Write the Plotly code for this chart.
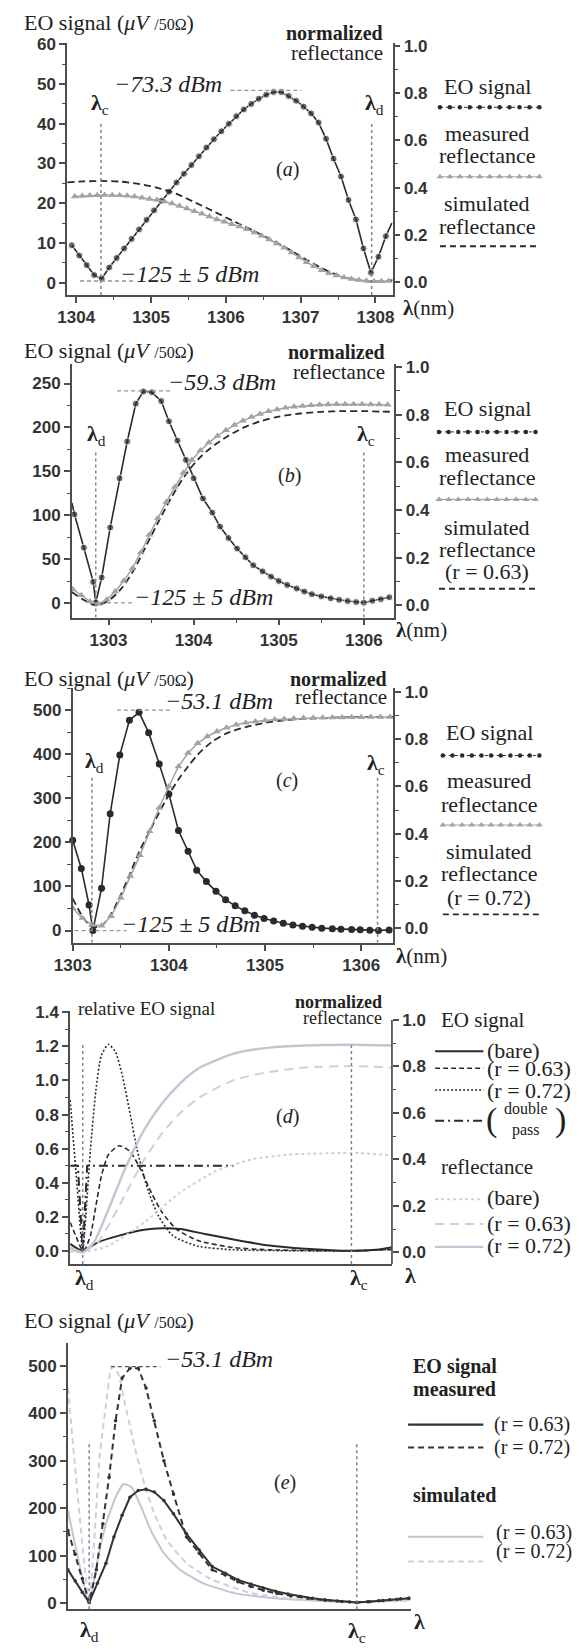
import plotly.graph_objects as go

W, H = 579, 1649
def px(v): return v / W
def py(v): return 1 - v / H

# ---------------- Panel (a) data ----------------
a_lam_eo = [1303.94, 1304.04, 1304.14, 1304.24, 1304.34, 1304.44, 1304.54, 1304.64, 1304.74, 1304.84,
            1304.94, 1305.04, 1305.14, 1305.24, 1305.34, 1305.44, 1305.54, 1305.64, 1305.74, 1305.84,
            1305.94, 1306.04, 1306.14, 1306.24, 1306.34, 1306.44, 1306.54, 1306.64, 1306.74, 1306.84,
            1306.94, 1307.04, 1307.14, 1307.24, 1307.34, 1307.44, 1307.54, 1307.64, 1307.74, 1307.84,
            1307.94, 1308.04, 1308.14, 1308.22]
a_eo = [9.4, 6.8, 4.4, 1.9, 1.0, 3.8, 6.2, 8.6, 11.0, 13.4,
        15.8, 18.2, 20.6, 22.9, 25.2, 27.4, 29.6, 31.8, 34.0, 36.1,
        38.1, 40.0, 41.9, 43.6, 45.0, 46.3, 47.3, 48.0, 48.0, 47.0,
        45.8, 44.3, 42.6, 40.3, 36.2, 31.2, 26.7, 20.8, 15.9, 8.6,
        2.5, 6.5, 11.7, 15.0]
a_lam_meas = [1303.98, 1304.08, 1304.18, 1304.28, 1304.38, 1304.48, 1304.58, 1304.68, 1304.78, 1304.88,
              1304.98, 1305.08, 1305.18, 1305.28, 1305.38, 1305.48, 1305.58, 1305.68, 1305.78, 1305.88,
              1305.98, 1306.08, 1306.18, 1306.28, 1306.38, 1306.48, 1306.58, 1306.68, 1306.78, 1306.88,
              1306.98, 1307.08, 1307.18, 1307.28, 1307.38, 1307.48, 1307.58, 1307.68, 1307.78, 1307.88,
              1307.98, 1308.08, 1308.18]
a_meas = [0.362, 0.364, 0.366, 0.368, 0.369, 0.368, 0.367, 0.365, 0.362, 0.357,
          0.352, 0.347, 0.341, 0.332, 0.322, 0.311, 0.300, 0.289, 0.277, 0.265,
          0.255, 0.245, 0.235, 0.223, 0.210, 0.196, 0.180, 0.163, 0.145, 0.125,
          0.104, 0.083, 0.066, 0.050, 0.037, 0.027, 0.019, 0.012, 0.008, 0.005,
          0.003, 0.003, 0.004]
a_lam_sim = [1303.88, 1304.1, 1304.35, 1304.6, 1304.85, 1305.1, 1305.35, 1305.6, 1305.85, 1306.1,
             1306.35, 1306.6, 1306.85, 1307.1, 1307.35, 1307.6, 1307.85, 1308.0, 1308.1, 1308.23]
a_sim = [0.422, 0.426, 0.428, 0.425, 0.415, 0.398, 0.372, 0.335, 0.297, 0.258,
         0.220, 0.180, 0.137, 0.090, 0.048, 0.018, 0.004, 0.001, 0.003, 0.008]
a_lam_c, a_lam_d = 1304.33, 1307.95
a_xticks = [1304, 1305, 1306, 1307, 1308]
a_yticks = [0, 10, 20, 30, 40, 50, 60]

# ---------------- Panel (b) data ----------------
b_lam_eo = [1302.57, 1302.60, 1302.71, 1302.82, 1302.85, 1302.92, 1303.02, 1303.13, 1303.22, 1303.32,
            1303.41, 1303.51, 1303.62, 1303.71, 1303.81, 1303.91, 1304.00, 1304.11, 1304.22, 1304.31,
            1304.41, 1304.51, 1304.61, 1304.70, 1304.81, 1304.91, 1305.00, 1305.10, 1305.21, 1305.30,
            1305.39, 1305.50, 1305.61, 1305.71, 1305.81, 1305.91, 1306.00, 1306.10, 1306.20, 1306.30]
b_eo = [114, 101, 63, 24, 0.5, 29, 86, 142, 184, 227,
        241, 240, 230, 207, 185, 163, 142, 119, 103, 87,
        74, 62, 52, 43, 36, 30, 25, 20.5, 16.5, 13,
        10, 7.5, 5.3, 3.6, 2.2, 1.0, 0.3, 2.5, 4.3, 6.5]
b_lam_meas = [1302.58, 1302.68, 1302.78, 1302.88, 1302.98, 1303.08, 1303.18, 1303.28, 1303.38, 1303.48,
              1303.58, 1303.68, 1303.78, 1303.88, 1303.98, 1304.08, 1304.18, 1304.28, 1304.38, 1304.48,
              1304.58, 1304.68, 1304.78, 1304.88, 1304.98, 1305.08, 1305.18, 1305.28, 1305.38, 1305.48,
              1305.58, 1305.68, 1305.78, 1305.88, 1305.98, 1306.08, 1306.18, 1306.28]
b_meas = [0.068, 0.042, 0.016, 0.006, 0.024, 0.058, 0.103, 0.155, 0.222, 0.296,
          0.366, 0.434, 0.497, 0.556, 0.610, 0.650, 0.683, 0.711, 0.735, 0.757,
          0.775, 0.790, 0.803, 0.814, 0.822, 0.829, 0.833, 0.837, 0.840, 0.842,
          0.843, 0.844, 0.844, 0.844, 0.844, 0.843, 0.843, 0.842]
b_lam_sim = [1302.57, 1302.7, 1302.85, 1303.0, 1303.15, 1303.3, 1303.45, 1303.6, 1303.75, 1303.9,
             1304.05, 1304.2, 1304.4, 1304.6, 1304.8, 1305.0, 1305.25, 1305.5, 1305.75, 1306.0,
             1306.2, 1306.36]
b_sim = [0.056, 0.025, 0.0, 0.02, 0.07, 0.15, 0.255, 0.36, 0.46, 0.545,
         0.612, 0.66, 0.71, 0.748, 0.774, 0.792, 0.805, 0.812, 0.815, 0.815,
         0.813, 0.812]
b_lam_d, b_lam_c = 1302.85, 1306.0
b_xticks = [1303, 1304, 1305, 1306]
b_yticks = [0, 50, 100, 150, 200, 250]

# ---------------- Panel (c) data ----------------
c_lam_eo = [1303.00, 1303.09, 1303.17, 1303.21, 1303.30, 1303.39, 1303.49, 1303.59, 1303.69, 1303.79,
            1303.90, 1304.00, 1304.10, 1304.20, 1304.29, 1304.39, 1304.49, 1304.59, 1304.69, 1304.79,
            1304.89, 1304.99, 1305.09, 1305.19, 1305.29, 1305.39, 1305.49, 1305.59, 1305.70, 1305.79,
            1305.90, 1305.99, 1306.09, 1306.18, 1306.29]
c_eo = [205, 141, 58, 0, 96, 265, 398, 477, 495, 449,
        378, 310, 227, 180, 137, 111, 89, 70, 56, 45,
        35, 27.5, 21.5, 16.5, 12.5, 9.8, 7.5, 5.5, 4.3, 3.2,
        2.4, 1.6, 0.9, 0.3, 1.2]
c_lam_meas = [1303.0, 1303.1, 1303.2, 1303.3, 1303.4, 1303.5, 1303.6, 1303.7, 1303.8, 1303.9,
              1304.0, 1304.1, 1304.2, 1304.3, 1304.4, 1304.5, 1304.6, 1304.7, 1304.8, 1304.9,
              1305.0, 1305.1, 1305.2, 1305.3, 1305.4, 1305.5, 1305.6, 1305.7, 1305.8, 1305.9,
              1306.0, 1306.1, 1306.2, 1306.3]
c_meas = [0.084, 0.042, 0.013, 0.010, 0.050, 0.128, 0.220, 0.308, 0.410, 0.510,
          0.600, 0.685, 0.742, 0.783, 0.812, 0.833, 0.849, 0.862, 0.870, 0.876,
          0.880, 0.884, 0.886, 0.888, 0.890, 0.891, 0.892, 0.893, 0.893, 0.894,
          0.894, 0.895, 0.895, 0.895]
c_lam_sim = [1303.0, 1303.1, 1303.2, 1303.3, 1303.4, 1303.5, 1303.6, 1303.7, 1303.8, 1303.9,
             1304.0, 1304.1, 1304.2, 1304.3, 1304.45, 1304.6, 1304.8, 1305.0, 1305.25, 1305.5,
             1305.8, 1306.1, 1306.335]
c_sim = [0.126, 0.05, 0.005, 0.01, 0.06, 0.14, 0.235, 0.33, 0.41, 0.49,
         0.565, 0.63, 0.685, 0.735, 0.79, 0.825, 0.852, 0.870, 0.883, 0.889,
         0.893, 0.895, 0.895]
c_lam_d, c_lam_c = 1303.2, 1306.17
c_xticks = [1303, 1304, 1305, 1306]
c_yticks = [0, 100, 200, 300, 400, 500]

# ---------------- Panel (d) data (relative wavelength units) ----------------
d_u_bare = [0, 3.9, 8.6, 15.2, 23.0, 28.6, 34.1, 41.9, 50.8, 61.9, 73.0, 84.1, 87.4, 95.2, 100]
d_eo_bare = [0.041, 0, 0.05, 0.089, 0.124, 0.132, 0.128, 0.099, 0.066, 0.031, 0.012, 0.001, 0, 0.006, 0.021]
d_u_63 = [0, 1.9, 3.9, 4.7, 6.3, 8.0, 9.7, 11.9, 15.2, 18.6, 21.9, 25.2, 28.6, 33.0, 39.7, 50.8, 61.9, 87.4, 100]
d_eo_63 = [0.167, 0.080, 0, 0.012, 0.089, 0.264, 0.439, 0.565, 0.617, 0.584, 0.478, 0.342, 0.225, 0.128,
           0.060, 0.019, 0.006, 0, 0.008]
d_u_72 = [0, 1.9, 3.9, 4.7, 6.3, 8.0, 9.7, 11.9, 14.1, 16.3, 18.6, 20.8, 24.1, 27.4, 31.9, 39.7, 50.8, 73.0, 87.4, 100]
d_eo_72 = [0.885, 0.439, 0, 0.167, 0.594, 0.944, 1.148, 1.212, 1.167, 1.021, 0.808, 0.594, 0.361, 0.206,
           0.089, 0.027, 0.006, 0, 0, 0.008]
d_u_dp = [0, 2.4, 3.9, 5.3, 50.8]
d_eo_dp = [0.5, 0.5, 0, 0.5, 0.5]
d_u_rb = [0, 3.9, 11.9, 23.0, 34.1, 45.2, 56.3, 67.4, 84.1, 89.7, 100]
d_ref_bare = [0.003, 0, 0.028, 0.128, 0.256, 0.349, 0.399, 0.42, 0.427, 0.427, 0.417]
d_u_r63 = [0, 3.9, 8.6, 13.0, 17.4, 23.0, 28.6, 34.1, 39.7, 50.8, 61.9, 73.0, 87.4, 100]
d_ref_63 = [0.014, 0, 0.043, 0.142, 0.256, 0.399, 0.513, 0.598, 0.662, 0.741, 0.776, 0.795, 0.801, 0.795]
d_u_r72 = [0, 3.9, 7.4, 11.9, 17.4, 23.0, 28.6, 34.1, 39.7, 50.8, 61.9, 73.0, 87.4, 100]
d_ref_72 = [0.021, 0, 0.043, 0.185, 0.37, 0.527, 0.641, 0.726, 0.79, 0.855, 0.881, 0.89, 0.893, 0.89]
d_u_d, d_u_c = 3.9, 87.4
d_yticks = [0, 0.2, 0.4, 0.6, 0.8, 1.0, 1.2, 1.4]

# ---------------- Panel (e) data (relative wavelength units) ----------------
e_u_m63 = [0, 2.1, 4.2, 6.2, 8.6, 11.1, 13.4, 15.8, 18.1, 20.5, 22.8, 25.2, 28.0, 30.8, 34.6, 38.3, 42.1,
           45.9, 49.6, 53.4, 57.0, 60.6, 64.2, 67.8, 71.4, 75.0, 78.6, 82.2, 84.3, 87.5, 90.7, 93.9, 97.1, 99.5]
e_m63 = [70, 47, 23, 1, 42, 84, 139, 185, 223, 237, 240, 234, 216, 188, 146, 112, 77,
         63, 49, 40, 32, 25, 19, 14, 10, 7, 4.5, 2.5, 1.5, 3, 5, 7, 9, 10]
e_u_m72 = [0, 2.1, 4.2, 6.2, 8.3, 10.2, 12.0, 13.9, 15.8, 18.1, 20.5, 22.8, 25.2, 28.0, 30.8, 34.6, 38.3,
           42.1, 45.9, 49.6, 53.4, 57.0, 61.0, 65.0, 70.0, 75.0, 80.0, 84.3, 88.0, 92.0, 96.0, 99.5]
e_m72 = [153, 103, 52, 1, 70, 167, 265, 384, 474, 495, 495, 453, 384, 300, 230, 139, 105,
         70, 59, 45, 35, 27, 20, 15, 10, 6, 3.5, 1.5, 3, 5.5, 8, 10]
e_u_s63 = [0, 6.2, 8.6, 11.1, 13.9, 16.2, 18.6, 21.4, 24.2, 28.0, 32.7, 39.3, 48.6, 58.0, 70.0, 84.3, 100]
e_s63 = [195, 1, 90, 167, 223, 251, 244, 202, 153, 105, 70, 42, 21, 12, 6, 2, 7]
e_u_s72 = [0, 6.2, 9.3, 11.1, 12.5, 13.4, 14.8, 16.7, 19.5, 22.3, 25.2, 28.9, 34.6, 42.1, 53.4, 65.0, 84.3, 100]
e_s72 = [453, 1, 314, 418, 492, 499, 481, 418, 328, 251, 188, 132, 84, 49, 21, 9, 2, 5]
e_u_d, e_u_c = 6.2, 84.3
e_yticks = [0, 100, 200, 300, 400, 500]

# ---------------- styles ----------------
DARK = '#2a2a2a'
TRI = '#a3a3a3'
LIGHT = '#c0c6d3'
LIGHT2 = '#ccd1dc'
AX = '#4d4d4d'
DOTC = '#7a8595'
PEAKC = '#8d97a8'
SERIF = 'Liberation Serif, Times New Roman, serif'
SANS = 'Liberation Sans, Arial, sans-serif'
TICKF = dict(family=SANS, size=17, color='#333333', weight='bold')

fig = go.Figure()

def xax(dom, rng, anchor, tickvals=None, minor=None):
    ax = dict(domain=[px(dom[0]), px(dom[1])], range=rng, anchor=anchor, showline=True, linecolor=AX,
              linewidth=1.7, showgrid=False, zeroline=False, fixedrange=True)
    if tickvals is not None:
        ax.update(tickmode='array', tickvals=tickvals, ticks='outside', ticklen=6, tickwidth=1.5,
                  tickcolor=AX, tickfont=TICKF)
        if minor:
            ax['minor'] = dict(ticks='outside', ticklen=3.5, tickwidth=1.2, tickcolor=AX, dtick=minor, tick0=0)
    else:
        ax.update(ticks='', showticklabels=False)
    return ax

def yax(dom, rng, anchor, tickvals, minor, fmt=None, side='left', overlay=None, showline=True):
    ax = dict(range=rng, anchor=anchor, showline=showline, linecolor=AX, linewidth=1.7, showgrid=False,
              zeroline=False, fixedrange=True, tickmode='array', tickvals=tickvals, ticks='outside',
              ticklen=6, tickwidth=1.5, tickcolor=AX, tickfont=TICKF, side=side,
              minor=dict(ticks='outside', ticklen=3.5, tickwidth=1.2, tickcolor=AX, dtick=minor, tick0=0))
    if fmt:
        ax['tickformat'] = fmt
    if overlay:
        ax['overlaying'] = overlay
    else:
        ax['domain'] = [py(dom[1]), py(dom[0])]
    return ax

R_TICKS = [0, 0.2, 0.4, 0.6, 0.8, 1.0]

# panel geometry (pixels): x0, x1, ytop, ybottom
PA = (50, 387, 35, 289)
PB = (54.8, 388.9, 358.3, 614)
PC = (55.6, 387.8, 685, 941.7)
PD = (53, 386.3, 1010.7, 1265.3)
PE = (50.7, 405.6, 1345, 1613)

a_yl = [-3.1, 60.4]; a_yr = [-0.055, 1.014]
b_yl = [-16.6, 272.6]; b_yr = [-0.051, 1.014]
c_yl = [-27.9, 550.2]; c_yr = [-0.063, 1.0176]
d_yl = [-0.078, 1.406]; d_yr = [-0.051, 1.037]
e_yl = [-13.0, 547.5]

layout = dict(
    xaxis=xax(PA[:2], [1303.88, 1308.23], 'y', a_xticks, 0.5),
    yaxis=yax(PA[2:], a_yl, 'x', a_yticks, 5),
    yaxis2=yax(None, a_yr, 'x', R_TICKS, 0.1, '.1f', 'right', 'y'),
    xaxis2=xax(PB[:2], [1302.57, 1306.36], 'y3', b_xticks, 0.5),
    yaxis3=yax(PB[2:], b_yl, 'x2', b_yticks, 25),
    yaxis4=yax(None, b_yr, 'x2', R_TICKS, 0.1, '.1f', 'right', 'y3'),
    xaxis3=xax(PC[:2], [1303.0, 1306.335], 'y5', c_xticks, 0.5),
    yaxis5=yax(PC[2:], c_yl, 'x3', c_yticks, 50),
    yaxis6=yax(None, c_yr, 'x3', R_TICKS, 0.1, '.1f', 'right', 'y5'),
    xaxis4=xax(PD[:2], [0, 100], 'y7'),
    yaxis7=yax(PD[2:], d_yl, 'x4', d_yticks, 0.1, '.1f'),
    yaxis8=yax(None, d_yr, 'x4', R_TICKS, 0.1, '.1f', 'right', 'y7', showline=False),
    xaxis5=xax(PE[:2], [0, 100], 'y9'),
    yaxis9=yax(PE[2:], e_yl, 'x5', e_yticks, 50),
    xaxis6=dict(domain=[0, 1], range=[0, W], visible=False, anchor='y10', fixedrange=True),
    yaxis10=dict(domain=[0, 1], range=[H, 0], visible=False, anchor='x6', fixedrange=True),
)

def sc(x, y, xa, ya, **kw):
    fig.add_trace(go.Scatter(x=x, y=y, xaxis=xa, yaxis=ya, showlegend=False, hoverinfo='skip', **kw))

# ---- panel (a)
sc(a_lam_sim, a_sim, 'x', 'y2', mode='lines', line=dict(color=DARK, width=1.8, dash='7px,4px', shape='spline', smoothing=0.8))
sc(a_lam_meas, a_meas, 'x', 'y2', mode='lines+markers', line=dict(color=TRI, width=1.5),
   marker=dict(symbol='triangle-up', size=7, color=TRI))
sc(a_lam_eo, a_eo, 'x', 'y', mode='lines+markers', line=dict(color=DARK, width=1.6),
   marker=dict(size=[7] * (len(a_eo) - 1) + [0], color=DARK), cliponaxis=False)

# ---- panel (b)
sc(b_lam_sim, b_sim, 'x2', 'y4', mode='lines', line=dict(color=DARK, width=1.8, dash='7px,4px', shape='spline', smoothing=0.8))
sc(b_lam_meas, b_meas, 'x2', 'y4', mode='lines+markers', line=dict(color=TRI, width=1.5),
   marker=dict(symbol='triangle-up', size=7, color=TRI))
sc(b_lam_eo, b_eo, 'x2', 'y3', mode='lines+markers', line=dict(color=DARK, width=1.6),
   marker=dict(size=[0] + [7] * (len(b_eo) - 1), color=DARK), cliponaxis=False)

# ---- panel (c)
sc(c_lam_sim, c_sim, 'x3', 'y6', mode='lines', line=dict(color=DARK, width=1.8, dash='7px,4px', shape='spline', smoothing=0.8))
sc(c_lam_meas, c_meas, 'x3', 'y6', mode='lines+markers', line=dict(color=TRI, width=1.5),
   marker=dict(symbol='triangle-up', size=7, color=TRI))
sc(c_lam_eo, c_eo, 'x3', 'y5', mode='lines+markers', line=dict(color=DARK, width=1.6),
   marker=dict(size=7, color=DARK), cliponaxis=False)

# ---- panel (d)
sp = dict(shape='spline', smoothing=0.6)
sc(d_u_rb, d_ref_bare, 'x4', 'y8', mode='lines', line=dict(color=LIGHT2, width=2, dash='dot', **sp))
sc(d_u_r63, d_ref_63, 'x4', 'y8', mode='lines', line=dict(color=LIGHT2, width=2, dash='9px,6px', **sp))
sc(d_u_r72, d_ref_72, 'x4', 'y8', mode='lines', line=dict(color=LIGHT, width=2.4, **sp))
sc(d_u_bare, d_eo_bare, 'x4', 'y7', mode='lines', line=dict(color=DARK, width=2, **sp))
sc(d_u_63, d_eo_63, 'x4', 'y7', mode='lines', line=dict(color=DARK, width=1.6, dash='5px,3px', **sp))
sc(d_u_72, d_eo_72, 'x4', 'y7', mode='lines', line=dict(color=DARK, width=1.6, dash='2px,2px', **sp))
sc(d_u_dp, d_eo_dp, 'x4', 'y7', mode='lines', line=dict(color=DARK, width=2, dash='9px,4px,2px,4px'))

# ---- panel (e)
sp2 = dict(shape='spline', smoothing=0.4)
sc(e_u_s63, e_s63, 'x5', 'y9', mode='lines', line=dict(color=LIGHT, width=2, **sp2))
sc(e_u_s72, e_s72, 'x5', 'y9', mode='lines', line=dict(color=LIGHT2, width=2, dash='6px,4px', **sp2))
sc(e_u_m63, e_m63, 'x5', 'y9', mode='lines+markers', line=dict(color='#333333', width=2),
   marker=dict(size=3.5, color='#333333'))
sc(e_u_m72, e_m72, 'x5', 'y9', mode='lines+markers', line=dict(color='#333333', width=2, dash='6px,4px'),
   marker=dict(size=3.5, color='#333333'))

# ---- reference lines (lambda positions, dBm levels)
shapes = []
def vline(x, y0, y1, xr, yr):
    shapes.append(dict(type='line', xref=xr, yref=yr, x0=x, x1=x, y0=y0, y1=y1,
                       line=dict(color=DOTC, width=1.5, dash='dot')))
def hline(x0, x1, y, xr, yr, color=PEAKC):
    shapes.append(dict(type='line', xref=xr, yref=yr, x0=x0, x1=x1, y0=y, y1=y,
                       line=dict(color=color, width=1.3, dash='4px,3px')))

vline(a_lam_c, a_yl[0], 40, 'x', 'y'); vline(a_lam_d, a_yl[0], 40, 'x', 'y')
hline(1306.06, 1307.01, 48.4, 'x', 'y'); hline(1304.05, 1304.76, 0.4, 'x', 'y')
vline(b_lam_d, b_yl[0], 172, 'x2', 'y3'); vline(b_lam_c, b_yl[0], 172, 'x2', 'y3')
hline(1303.1, 1303.73, 241.6, 'x2', 'y3'); hline(1302.9, 1303.29, 0, 'x2', 'y3')
vline(c_lam_d, c_yl[0], 347, 'x3', 'y5'); vline(c_lam_c, c_yl[0], 347, 'x3', 'y5')
hline(1303.46, 1304.02, 500, 'x3', 'y5'); hline(1303.02, 1303.56, 0, 'x3', 'y5')
vline(d_u_d, d_yl[0], 1.225, 'x4', 'y7'); vline(d_u_c, d_yl[0], 1.225, 'x4', 'y7')
vline(e_u_d, e_yl[0], 336, 'x5', 'y9'); vline(e_u_c, e_yl[0], 336, 'x5', 'y9')
hline(12.5, 27.0, 498, 'x5', 'y9', color='#555555')
# right axis line of panel (d) running up to 1.0
shapes.append(dict(type='line', xref='x4 domain', yref='y8', x0=1, x1=1, y0=d_yr[0], y1=1.0,
                   line=dict(color=AX, width=1.7)))

# ---- text
anns = []
def ann(text, X, Y, size, xanchor='center', weight='normal', style='normal', family=SERIF, color='#222222'):
    anns.append(dict(x=px(X), y=py(Y), xref='paper', yref='paper', text=text, showarrow=False,
                     xanchor=xanchor, yanchor='middle',
                     font=dict(family=family, size=size, color=color, weight=weight, style=style)))

TITLE = 'EO signal (<i>μV</i> <span style="font-size:16px">/50Ω</span>)'

# (a)
ann(TITLE, 3, 15, 22, 'left')
ann('<b>normalized</b>', 379, 25, 20, 'right')
ann('reflectance', 379, 45, 21, 'right')
ann('<b>λ</b><sub>c</sub>', 84, 97, 22)
ann('<b>λ</b><sub>d</sub>', 368, 97, 22)
ann('−73.3 dBm', 154, 77, 24, style='italic')
ann('−125 ± 5 dBm', 177, 268, 24, style='italic')
ann('(<i>a</i>)', 278, 163, 20)
ann('<b>λ</b>(nm)', 424, 302, 21)
for t, yy in [('EO signal', 79), ('measured', 126), ('reflectance', 149), ('simulated', 197), ('reflectance', 220)]:
    ann(t, 485, yy, 22)

# (b)
ann(TITLE, 3, 345, 22, 'left')
ann('<b>normalized</b>', 381, 347, 20, 'right')
ann('reflectance', 381, 367, 21, 'right')
ann('<b>λ</b><sub>d</sub>', 80, 430, 22)
ann('<b>λ</b><sub>c</sub>', 359, 430, 22)
ann('−59.3 dBm', 210, 377, 24, style='italic')
ann('−125 ± 5 dBm', 191, 593, 24, style='italic')
ann('(<i>b</i>)', 280, 471, 20)
ann('<b>λ</b>(nm)', 417, 627, 21)
for t, yy in [('EO signal', 403), ('measured', 450), ('reflectance', 473), ('simulated', 523),
              ('reflectance', 545), ('(r = 0.63)', 568)]:
    ann(t, 485, yy, 22)

# (c)
ann(TITLE, 3, 675, 22, 'left')
ann('<b>normalized</b>', 383, 676, 20, 'right')
ann('reflectance', 383, 694, 21, 'right')
ann('<b>λ</b><sub>d</sub>', 78, 760, 22)
ann('<b>λ</b><sub>c</sub>', 370, 762, 22)
ann('−53.1 dBm', 207, 698, 24, style='italic')
ann('−125 ± 5 dBm', 178, 923, 24, style='italic')
ann('(<i>c</i>)', 278, 778, 20)
ann('<b>λ</b>(nm)', 417, 955, 21)
for t, yy in [('EO signal', 730), ('measured', 778), ('reflectance', 802), ('simulated', 850),
              ('reflectance', 872), ('(r = 0.72)', 896)]:
    ann(t, 487, yy, 22)

# (d)
ann('relative EO signal', 59, 1008, 19, 'left')
ann('<b>normalized</b>', 378, 1001, 18, 'right')
ann('reflectance', 378, 1017, 18, 'right')
ann('(<i>d</i>)', 278, 1117, 20)
ann('<b>λ</b><sub>d</sub>', 68, 1280, 22)
ann('<b>λ</b><sub>c</sub>', 352, 1280, 22)
ann('<b>λ</b>', 406, 1277, 22)
ann('EO signal', 435, 1019, 21, 'left')
ann('(bare)', 483, 1050, 22, 'left')
ann('(r = 0.63)', 483, 1068, 22, 'left')
ann('(r = 0.72)', 483, 1090, 22, 'left')
ann('double<br>pass', 525, 1120, 16)
ann('(', 489, 1120, 34)
ann(')', 561, 1120, 34)
ann('reflectance', 435, 1167, 21, 'left')
ann('(bare)', 483, 1198, 22, 'left')
ann('(r = 0.63)', 483, 1224, 22, 'left')
ann('(r = 0.72)', 483, 1247, 22, 'left')

# (e)
ann(TITLE, 3, 1322, 22, 'left')
ann('−53.1 dBm', 207, 1361, 24, style='italic')
ann('(<i>e</i>)', 276, 1485, 20)
ann('<b>λ</b><sub>d</sub>', 73, 1635, 22)
ann('<b>λ</b><sub>c</sub>', 350, 1636, 22)
ann('<b>λ</b>', 415, 1625, 22)
ann('<b>EO signal</b>', 406, 1368, 20, 'left')
ann('<b>measured</b>', 406, 1391, 20, 'left')
ann('(r = 0.63)', 490, 1427, 20, 'left')
ann('(r = 0.72)', 490, 1450, 20, 'left')
ann('<b>simulated</b>', 406, 1498, 20, 'left')
ann('(r = 0.63)', 492, 1536, 20, 'left')
ann('(r = 0.72)', 492, 1555, 20, 'left')

# ---- legend samples (drawn in a full-figure pixel frame)
def sample(x0, x1, y, n=11, **kw):
    xs = [x0 + (x1 - x0) * i / (n - 1) for i in range(n)]
    sc(xs, [y] * n, 'x6', 'y10', **kw)

for (x0, x1, yd, yt, yr) in [(436, 539, 100, 170, 240), (435, 535, 427, 495, 585), (439, 539, 753, 823, 913)]:
    sample(x0, x1, yd, mode='lines+markers', line=dict(color=DARK, width=1, dash='dot'),
           marker=dict(size=4.5, color=DARK))
    sample(x0, x1, yt, mode='lines+markers', line=dict(color=TRI, width=1.2),
           marker=dict(symbol='triangle-up', size=6, color=TRI))
    sample(x0, x1, yr, n=2, mode='lines', line=dict(color=DARK, width=1.8, dash='6px,4px'))

sample(431, 481, 1051, n=2, mode='lines', line=dict(color=DARK, width=2))
sample(431, 481, 1068, n=2, mode='lines', line=dict(color=DARK, width=1.6, dash='5px,3px'))
sample(431, 481, 1090, n=2, mode='lines', line=dict(color=DARK, width=1.6, dash='2px,2px'))
sample(431, 481, 1121, n=2, mode='lines', line=dict(color=DARK, width=2, dash='9px,4px,2px,4px'))
sample(431, 481, 1200, n=2, mode='lines', line=dict(color=LIGHT2, width=2, dash='dot'))
sample(431, 481, 1225, n=2, mode='lines', line=dict(color=LIGHT2, width=2, dash='9px,6px'))
sample(431, 481, 1248, n=2, mode='lines', line=dict(color=LIGHT, width=2.4))

sample(403, 481, 1427, n=2, mode='lines', line=dict(color='#333333', width=2.2))
sample(403, 481, 1450, n=2, mode='lines', line=dict(color='#333333', width=2, dash='6px,4px'))
sample(403, 481, 1540, n=2, mode='lines', line=dict(color=LIGHT, width=2))
sample(403, 481, 1565, n=2, mode='lines', line=dict(color=LIGHT2, width=2, dash='6px,4px'))

fig.update_layout(**layout)
fig.update_layout(width=W, height=H, autosize=False, margin=dict(l=0, r=0, t=0, b=0),
                  paper_bgcolor='white', plot_bgcolor='rgba(0,0,0,0)', showlegend=False,
                  shapes=shapes, annotations=anns)
fig.write_html('out.html')
